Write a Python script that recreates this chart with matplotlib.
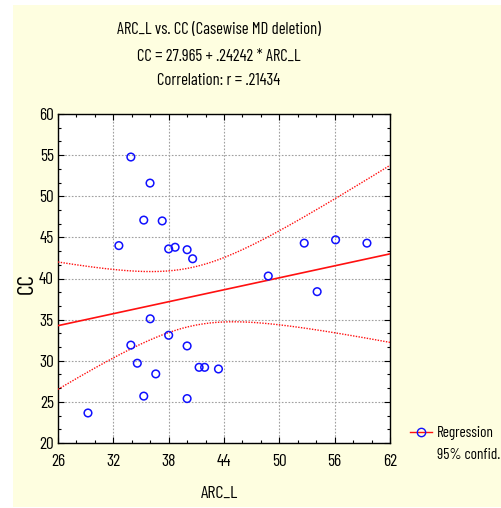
import numpy as np
import matplotlib
matplotlib.use("Agg")
import matplotlib.pyplot as plt
from matplotlib.ticker import AutoMinorLocator, FixedLocator
from matplotlib.patches import Rectangle
from matplotlib.lines import Line2D

arc_l = [29.25, 33.9, 35.98, 35.3, 37.3, 32.6, 38.0, 38.7, 40.0, 40.6, 48.8, 52.7,
         56.1, 59.5, 54.1, 36.0, 38.0, 33.9, 40.0, 34.6, 36.6, 41.3, 41.9, 43.4, 35.3, 40.0]
cc = [23.65, 54.77, 51.6, 47.1, 47.0, 44.0, 43.6, 43.8, 43.5, 42.4, 40.3, 44.3,
      44.7, 44.3, 38.4, 35.1, 33.1, 31.9, 31.8, 29.7, 28.4, 29.2, 29.2, 29.0, 25.7, 25.4]
intercept = 27.965
slope = 0.24242
x_ticks = [26, 32, 38, 44, 50, 56, 62]
y_ticks = [20, 25, 30, 35, 40, 45, 50, 55, 60]
title_lines = ["ARC_L vs. CC (Casewise MD deletion)",
               "CC = 27.965 + .24242 * ARC_L",
               "Correlation: r = .21434"]
legend_labels = ["Regression", "95% confid."]

FONT = ["Liberation Sans Narrow", "Barlow Condensed", "Archivo Narrow", "DejaVu Sans"]
plt.rcParams["font.family"] = FONT

W, H = 502, 508
fig = plt.figure(figsize=(W / 100, H / 100), dpi=100)
fig.patch.set_facecolor("white")
fig.patches.append(Rectangle((13 / W, 1 / H), 1 - 13 / W, 502 / H, transform=fig.transFigure,
                             facecolor="#FEFEE0", edgecolor="none", zorder=-10))

ax = fig.add_axes([58 / W, 65 / H, 332 / W, 329 / H])
ax.set_facecolor("white")

x = np.array(arc_l)
y = np.array(cc)
n = len(x)
xs = np.linspace(26, 62, 200)
fit = intercept + slope * xs
resid = y - (intercept + slope * x)
s = np.sqrt(np.sum(resid**2) / (n - 2))
sxx = np.sum((x - x.mean())**2)
t = 2.064
half = t * s * np.sqrt(1.0 / n + (xs - x.mean())**2 / sxx)

red = "#FF1010"
blue = "#1010FF"
ax.plot(xs, fit, color=red, lw=1.2, zorder=3)
ax.plot(xs, fit + half, color=red, lw=1.0, ls=(0, (1, 1)), zorder=3)
ax.plot(xs, fit - half, color=red, lw=1.0, ls=(0, (1, 1)), zorder=3)
ax.scatter(x, y, s=30, facecolors="none", edgecolors=blue, linewidths=1.1, zorder=4,
           marker="o")

ax.set_xlim(26, 62)
ax.set_ylim(20, 60)
ax.xaxis.set_major_locator(FixedLocator(x_ticks))
ax.yaxis.set_major_locator(FixedLocator(y_ticks))
ax.xaxis.set_minor_locator(AutoMinorLocator(3))
ax.yaxis.set_minor_locator(AutoMinorLocator(3))
ax.tick_params(which="both", direction="in", top=True, right=True, labelsize=12.5,
               width=0.8, color="black")
ax.tick_params(which="major", length=4)
ax.tick_params(which="minor", length=2.5)
ax.tick_params(axis="x", which="major", pad=8)
ax.tick_params(axis="y", which="major", pad=3)
ax.grid(True, which="major", color="#A0A0A0", ls=(0, (1.5, 1.5)), lw=0.8)
for sp in ax.spines.values():
    sp.set_linewidth(1.0)

ax.set_xlabel("ARC_L", fontsize=13)
ax.xaxis.set_label_coords((219 - 58) / 332, -(493 - 443) / 329)
ax.xaxis.label.set_va("center")
ax.set_ylabel("CC", fontsize=17)
ax.yaxis.set_label_coords(-(58 - 27) / 332, (443 - 284) / 329)
ax.yaxis.label.set_va("center")

for i, (line, yy) in enumerate(zip(title_lines, [29, 56, 81])):
    fig.text(219 / W, 1 - yy / H, line, ha="center", va="center", fontsize=12)

fig.add_artist(Line2D([410 / W, 432 / W], [1 - 432 / H, 1 - 432 / H], transform=fig.transFigure,
                      color=red, lw=1.0))
fig.add_artist(Line2D([421 / W], [1 - 432 / H], transform=fig.transFigure, marker="o",
                      markerfacecolor="none", markeredgecolor=blue, markersize=6, lw=0))
fig.text(437 / W, 1 - 433 / H, legend_labels[0], ha="left", va="center", fontsize=11)
fig.text(437 / W, 1 - 455 / H, legend_labels[1], ha="left", va="center", fontsize=11)

fig.savefig("out.png", dpi=100, facecolor=fig.get_facecolor())
